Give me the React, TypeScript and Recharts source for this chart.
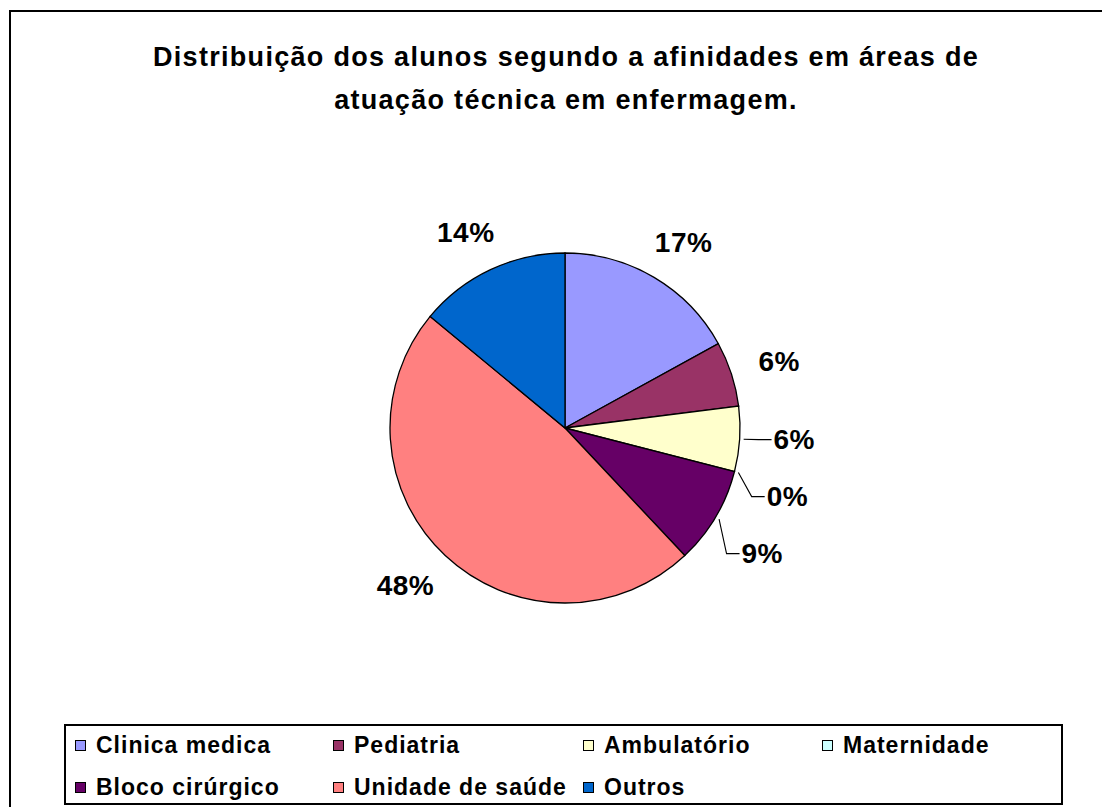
import React from 'react';
import { PieChart, Pie, Cell, Legend } from 'recharts';

const categories = ['Clinica medica', 'Pediatria', 'Ambulatório', 'Maternidade', 'Bloco cirúrgico', 'Unidade de saúde', 'Outros'];
const percentages = [17, 6, 6, 0, 9, 48, 14];
const colors = ['#9999FF', '#993366', '#FFFFCC', '#CCFFFF', '#660066', '#FF8080', '#0066CC'];
const leaderLabels = ['Ambulatório', 'Maternidade', 'Bloco cirúrgico'];
const titleLines = ['Distribuição dos alunos segundo a afinidades em áreas de', 'atuação técnica em enfermagem.'];

const data = categories.map((name, i) => ({ name, value: percentages[i], color: colors[i] }));

const W = 1102;
const H = 799;
const CX = 557;
const CY = 420;
const R = 175;
const FONT = '"Liberation Sans", Arial, Helvetica, sans-serif';
const RAD = Math.PI / 180;
const LABEL_FS = 28;

// precompute leader label y positions (spread to avoid overlap)
const total = percentages.reduce((a, b) => a + b, 0);
const leaderY: Record<number, number> = {};
{
  let acc = 0;
  let prevY = -Infinity;
  percentages.forEach((v, i) => {
    const mid = 90 - ((acc + v / 2) / total) * 360;
    acc += v;
    if (leaderLabels.includes(categories[i])) {
      const natural = CY - (R + 58) * Math.sin(mid * RAD) - 3;
      const y = Math.max(natural, prevY + 57);
      leaderY[i] = y;
      prevY = y;
    }
  });
}

const renderLabel = (props: any) => {
  const { cx, cy, midAngle, outerRadius, index, value } = props;
  const c = Math.cos(midAngle * RAD);
  const s = Math.sin(midAngle * RAD);
  const txt = `${value}%`;
  const style = { fontFamily: FONT, fontWeight: 700, fontSize: LABEL_FS, letterSpacing: 0.5, fill: '#000' } as const;
  if (leaderLabels.includes(categories[index])) {
    const sx = cx + (outerRadius + 4) * c;
    const sy = cy - (outerRadius + 4) * s;
    const lx = cx + (outerRadius + 58) * c;
    const y = leaderY[index];
    const tx = lx - 24;
    return (
      <g key={`lbl-${index}`}>
        <polyline points={`${sx},${sy} ${tx - 15},${y} ${tx - 2},${y}`} fill="none" stroke="#000" strokeWidth={1.1} />
        <text x={tx} y={y} textAnchor="start" dominantBaseline="central" style={style}>{txt}</text>
      </g>
    );
  }
  // place the label box just outside the rim, offset by half its size along the radial direction
  const r = outerRadius + 30;
  const w = LABEL_FS * (String(value).length * 0.556 + 0.889);
  const h = 22;
  const x = cx + r * c + (w / 2) * c;
  const y = cy - r * s - (h / 2) * s;
  return (
    <text key={`lbl-${index}`} x={x} y={y} textAnchor="middle" dominantBaseline="central" style={style}>
      {txt}
    </text>
  );
};

const legendCols = [11, 269, 519, 758];

const renderLegend = () => (
  <div style={{ position: 'relative', width: 999, height: 81, border: '2px solid #000', boxSizing: 'border-box', background: '#fff' }}>
    {data.map((d, i) => {
      const row = Math.floor(i / 4);
      const col = i % 4;
      return (
        <div
          key={d.name}
          style={{
            position: 'absolute',
            left: legendCols[col] - 2,
            top: row === 0 ? 19 : 61,
            height: 0,
            display: 'flex',
            alignItems: 'center',
            whiteSpace: 'nowrap',
          }}
        >
          <span style={{ display: 'inline-block', width: 9, height: 9, background: d.color, border: '1px solid #000', marginRight: 10 }} />
          <span style={{ fontFamily: FONT, fontWeight: 700, fontSize: 23, letterSpacing: 1, color: '#000' }}>{d.name}</span>
        </div>
      );
    })}
  </div>
);

export default function App() {
  return (
    <div style={{ position: 'relative', width: W, height: H, overflow: 'hidden', background: '#fff' }}>
      <div style={{ position: 'absolute', left: 1, top: 2, width: 1300, height: 1000, border: '2px solid #000', boxSizing: 'border-box' }} />
      <div
        style={{
          position: 'absolute',
          left: 0,
          top: 28,
          width: 1116,
          textAlign: 'center',
          fontFamily: FONT,
          fontWeight: 700,
          fontSize: 27,
          letterSpacing: 1.3,
          lineHeight: '43px',
          color: '#000',
        }}
      >
        {titleLines.map((l) => (
          <div key={l}>{l}</div>
        ))}
      </div>
      <div style={{ position: 'absolute', left: 0, top: 0 }}>
        <PieChart width={W} height={H} margin={{ top: 0, right: 0, bottom: 0, left: 0 }}>
          <Pie
            data={data}
            dataKey="value"
            nameKey="name"
            cx={CX}
            cy={CY}
            outerRadius={R}
            startAngle={90}
            endAngle={-270}
            stroke="#000"
            strokeWidth={1.3}
            label={renderLabel}
            labelLine={false}
            isAnimationActive={false}
          >
            {data.map((d) => (
              <Cell key={d.name} fill={d.color} />
            ))}
          </Pie>
          <Legend content={renderLegend} wrapperStyle={{ position: 'absolute', left: 56, top: 716, width: 999, height: 81 }} />
        </PieChart>
      </div>
    </div>
  );
}
